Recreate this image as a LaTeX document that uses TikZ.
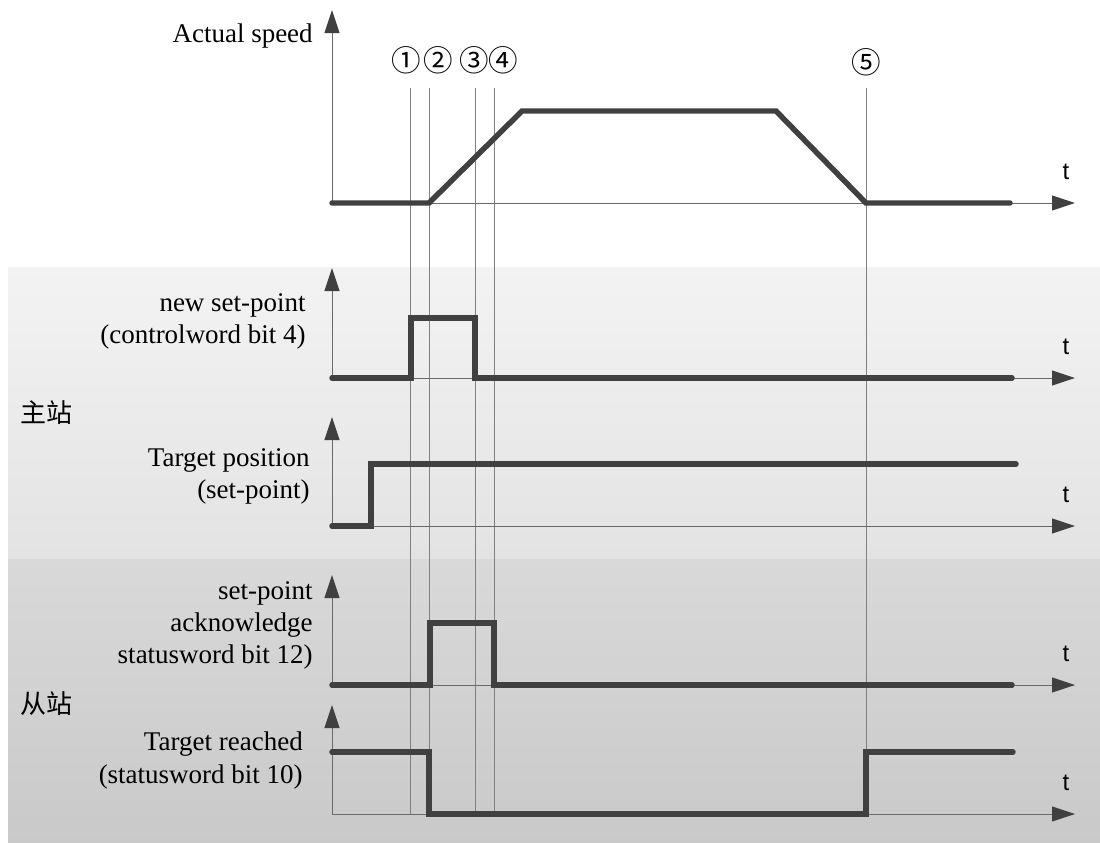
\documentclass[tikz,border=0pt]{standalone}
\usepackage{fontspec}
\setmainfont{Liberation Serif}
\newfontfamily\cjk{Noto Sans CJK SC}
\newfontfamily\tfont{Liberation Sans}
\usetikzlibrary{arrows.meta}

\definecolor{sig}{HTML}{404040}
\definecolor{axisgray}{HTML}{6A6A6A}
\definecolor{markgray}{HTML}{808080}
\definecolor{bandA}{HTML}{F3F3F3}
\definecolor{bandB}{HTML}{E3E3E3}
\definecolor{bandC}{HTML}{D9D9D9}
\definecolor{bandD}{HTML}{C9C9C9}

\tikzset{
  axis/.style={axisgray, line width=0.7pt,
    -{Triangle[length=0.575cm,width=0.375cm,color=sig]}},
  signal/.style={sig, line width=3.9pt, line cap=round},
  marker/.style={markgray, line width=0.7pt},
  lbl/.style={anchor=base east, inner sep=0pt, font=\fontsize{19.2}{23}\selectfont},
  tlbl/.style={anchor=base, inner sep=0pt, font=\tfont\fontsize{17}{20}\selectfont},
  circ/.style={inner sep=0pt, font=\cjk\fontsize{21}{24}\selectfont},
  cn/.style={anchor=west, inner sep=0pt, font=\cjk\fontsize{18.5}{22}\selectfont},
}

\begin{document}
\begin{tikzpicture}[x=0.025cm,y=-0.025cm]
\useasboundingbox (0,0) rectangle (1100,843);

% bands for master and slave
\shade[top color=bandA, bottom color=bandB] (8,267) rectangle (1100,559);
\shade[top color=bandC, bottom color=bandD] (8,559) rectangle (1100,843);

% event lines
\foreach \x in {410,429,475,494,866}
  \draw[marker] (\x,88) -- (\x,814);
\node[circ] (e1) at (406,60) {①};
\node[circ] (e2) at (438,60) {②};
\node[circ] (e3) at (474,60) {③};
\node[circ] (e4) at (503,60) {④};
\node[circ] (e5) at (866,62) {⑤};

% axes
\foreach \y/\top in {203/10,378/268,526/417,685/575,814/705} {
  \draw[axis] (332,\y) -- (332,\top);
  \draw[axis] (332,\y) -- (1075,\y);
  \node[tlbl] at (1066,{\y-24}) {t};
}

% Actual speed
\draw[signal] (332,203) -- (429,203) -- (522,111) -- (776,111) -- (866,203) -- (1010,203);
\node[lbl] (speed) at (313,42) {Actual speed};

% new set-point
\draw[signal] (332,378) -- (411,378) -- (411,318) -- (475,318) -- (475,378) -- (1012,378);
\node[lbl] (nsp1) at (306,311) {new set-point};
\node[lbl] (nsp2) at (306,343) {(controlword bit 4)};

% Target position
\draw[signal] (332,526) -- (371,526) -- (371,464) -- (1016,464);
\node[lbl] (tp1) at (310,466) {Target position};
\node[lbl] (tp2) at (310,498) {(set-point)};

% set-point acknowledge
\draw[signal] (332,685) -- (430,685) -- (430,623) -- (494,623) -- (494,685) -- (1012,685);
\node[lbl] (ack1) at (313,599) {set-point};
\node[lbl] (ack2) at (313,631) {acknowledge};
\node[lbl] (ack3) at (313,663) {statusword bit 12)};

% Target reached
\draw[signal] (332,752) -- (429,752) -- (429,814) -- (866,814) -- (866,752) -- (1013,752);
\node[lbl] (tr1) at (303,750) {Target reached};
\node[lbl] (tr2) at (303,783) {(statusword bit 10)};

\node[cn] (master) at (20,413) {主站};
\node[cn] (slave) at (20,704) {从站};
\end{tikzpicture}
\end{document}
